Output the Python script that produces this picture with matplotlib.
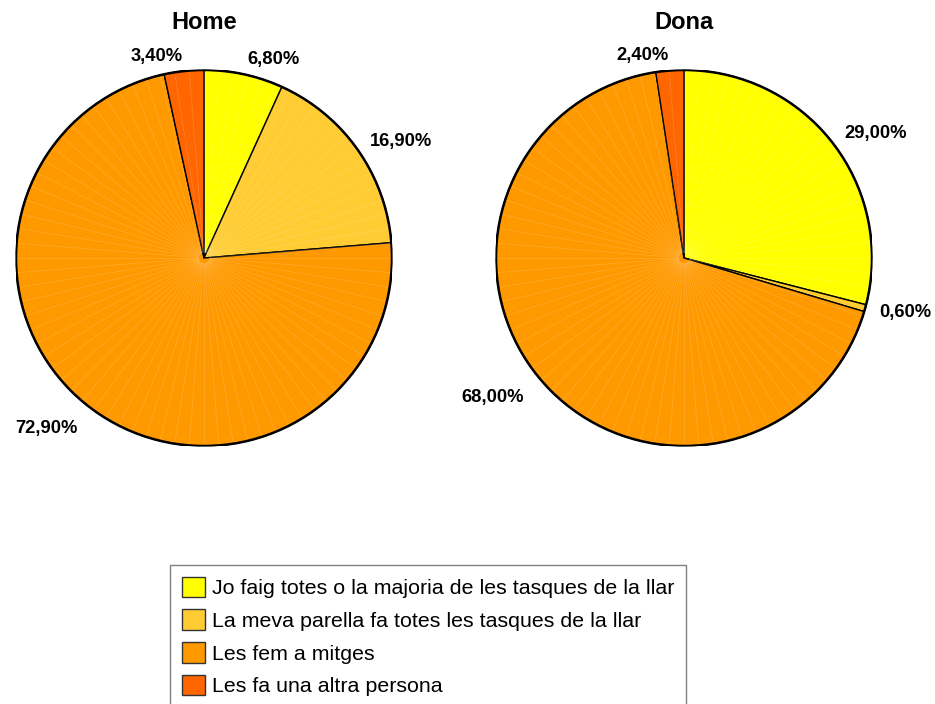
import numpy as np
import matplotlib.pyplot as plt

plt.rcParams['font.family'] = ['Liberation Sans', 'DejaVu Sans']

# data
categories = ['Jo faig totes o la majoria de les tasques de la llar',
              'La meva parella fa totes les tasques de la llar',
              'Les fem a mitges',
              'Les fa una altra persona']
home = [6.8, 16.9, 72.9, 3.4]
dona = [29.0, 0.6, 68.0, 2.4]
titles = ['Home', 'Dona']
colors = ['#FFFF00', '#FFCC33', '#FF9900', '#FF6600']

W, H = 935, 704
fig = plt.figure(figsize=(W / 100, H / 100), dpi=100)

centers = [204, 684]
R = 188
cy = 258

for cx, vals, title in zip(centers, [home, dona], titles):
    ax = fig.add_axes([(cx - R) / W, (H - cy - R) / H, 2 * R / W, 2 * R / H])
    wedges, _ = ax.pie(vals, colors=colors, startangle=90, counterclock=False,
                       radius=1, wedgeprops=dict(edgecolor='black', linewidth=1))
    # faint radial texture like the original
    for a in np.deg2rad(np.arange(0, 360, 4.5)):
        ax.plot([0.03 * np.cos(a), np.cos(a)], [0.03 * np.sin(a), np.sin(a)],
                color='white', alpha=0.18, lw=0.5, zorder=2)
    ax.add_patch(plt.Circle((0, 0), 1, fill=False, ec='black', lw=1.8, zorder=3))
    for w, v in zip(wedges, vals):
        mid = np.deg2rad((w.theta1 + w.theta2) / 2)
        f = 1.08 if np.sin(mid) > -0.3 else 1.13
        x, y = f * np.cos(mid), f * np.sin(mid)
        ax.text(x, y, f'{v:.2f}%'.replace('.', ','), ha='left' if x > 0 else 'right',
                va='center', fontsize=13.2, fontweight='bold')
    ax.text(0, 1.255, title, ha='center', va='center', fontsize=17, fontweight='bold')
    ax.set_xlim(-1, 1)
    ax.set_ylim(-1, 1)
    ax.set_aspect('equal')
    ax.axis('off')

handles = [plt.Rectangle((0, 0), 1, 1, fc=c, ec='#333333', lw=1) for c in colors]
leg = fig.legend(handles, categories, loc='upper left',
                 bbox_to_anchor=(170 / W, 1 - 565 / H), borderaxespad=0,
                 fontsize=15.4, handlelength=1.1, handleheight=1.1,
                 labelspacing=0.52, handletextpad=0.33, borderpad=0.55,
                 fancybox=False, framealpha=1)
leg.get_frame().set_edgecolor('#808080')
leg.get_frame().set_linewidth(1)

fig.savefig('out.png', dpi=100)
